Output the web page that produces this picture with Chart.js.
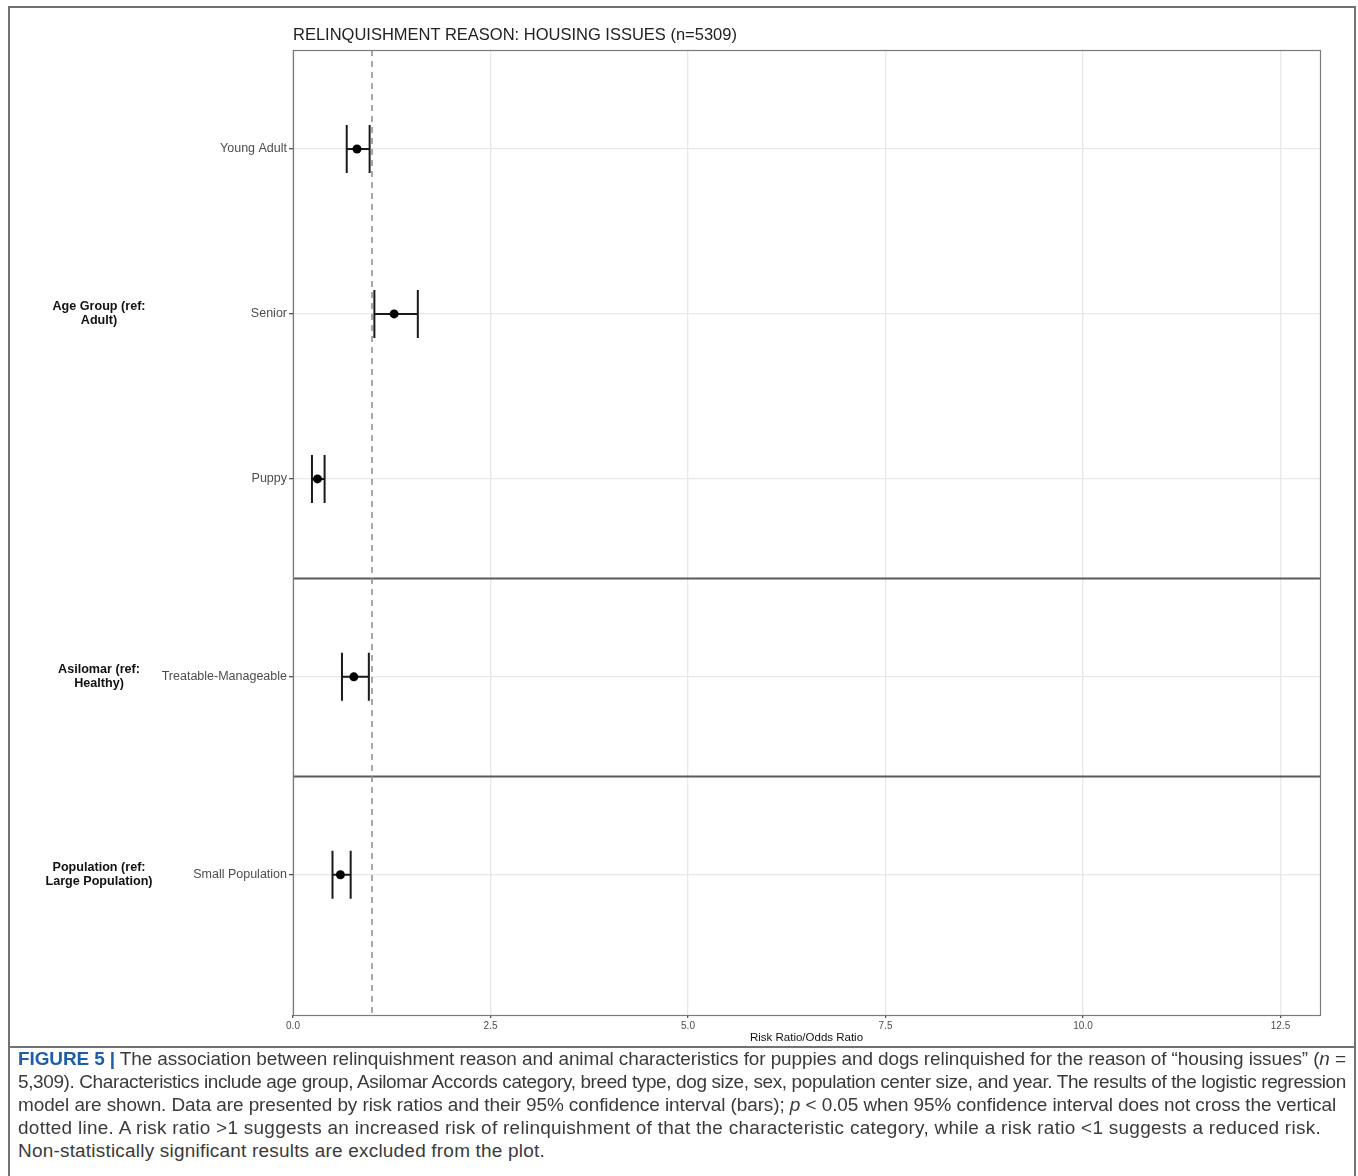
<!DOCTYPE html>
<html><head><meta charset="utf-8">
<script src="https://cdn.jsdelivr.net/npm/chart.js@4.4.1/dist/chart.umd.min.js"></script>
<style>
html,body{margin:0;padding:0;background:#fff;}
#wrap{position:relative;width:1358px;height:1176px;overflow:hidden;font-family:"Liberation Sans",Arial,sans-serif;}
#frame{position:absolute;left:8px;top:6px;width:1348px;height:1300px;border:2px solid #727272;box-sizing:border-box;}
#sep{position:absolute;left:8px;top:1046px;width:1348px;height:0;border-top:2px solid #727272;}
#cv{position:absolute;left:0;top:0;}
#title{position:absolute;left:293px;top:24px;font-size:16.5px;color:#222;white-space:nowrap;line-height:20px;}
.cap{position:absolute;left:18px;color:#3a3a3a;white-space:nowrap;line-height:18px;font-family:"Liberation Sans",Arial,sans-serif;}
.fig{color:#1c5ea8;font-weight:bold;}
</style></head>
<body>
<div id="wrap">
  <div id="frame"></div>
  <canvas id="cv" width="1358" height="1050"></canvas>
  <div id="sep"></div>
  <div id="title">RELINQUISHMENT REASON: HOUSING ISSUES (n=5309)</div>
  <div id="caption"></div>
</div>
<script>
// ---- data ----
const groups = ['Age Group (ref:\nAdult)', 'Asilomar (ref:\nHealthy)', 'Population (ref:\nLarge Population)'];
const categories = ['Young Adult', 'Senior', 'Puppy', 'Treatable-Manageable', 'Small Population'];
const categoryGroup = [0, 0, 0, 1, 2];
const estimate = [0.81, 1.28, 0.31, 0.77, 0.60];
const lower = [0.68, 1.03, 0.24, 0.62, 0.50];
const upper = [0.97, 1.58, 0.40, 0.96, 0.73];
const xTicks = [0, 2.5, 5, 7.5, 10, 12.5];
const refValue = 1;

// ---- discrete positions built from the group structure (ggplot-like expansion) ----
const EXP = 0.6;
const catPos = [];
const groupBounds = [];
let cursor = 0;
groups.forEach((g, gi) => {
  const idx = categoryGroup.map((c, i) => c === gi ? i : -1).filter(i => i >= 0);
  const start = cursor;
  idx.forEach((i, k) => { catPos[i] = start + EXP + k; });
  cursor = start + EXP * 2 + (idx.length - 1);
  groupBounds.push({start, end: cursor, idx});
});
const Y_MAX = 5.85;
const X_MAX = 13.0;

const capHalf = 24;
const errorBars = {
  id: 'errorBars',
  beforeDatasetsDraw(chart) {
    const {ctx, chartArea: a, scales: {x, y}} = chart;
    ctx.save();
    ctx.strokeStyle = '#5a5a5a'; ctx.lineWidth = 1.8;
    groupBounds.slice(0, -1).forEach(b => {
      const py = Math.round(y.getPixelForValue(b.end)) + 0.5;
      ctx.beginPath(); ctx.moveTo(a.left, py); ctx.lineTo(a.right, py); ctx.stroke();
    });
    const rx = x.getPixelForValue(refValue);
    ctx.strokeStyle = '#8a8a8a'; ctx.lineWidth = 1.5; ctx.setLineDash([6, 5]);
    ctx.beginPath(); ctx.moveTo(rx, a.top); ctx.lineTo(rx, a.bottom); ctx.stroke();
    ctx.setLineDash([]);
    ctx.strokeStyle = '#1a1a1a'; ctx.lineWidth = 2;
    categories.forEach((c, i) => {
      const py = y.getPixelForValue(catPos[i]);
      const x0 = x.getPixelForValue(lower[i]);
      const x1 = x.getPixelForValue(upper[i]);
      ctx.beginPath();
      ctx.moveTo(x0, py); ctx.lineTo(x1, py);
      ctx.moveTo(x0, py - capHalf); ctx.lineTo(x0, py + capHalf);
      ctx.moveTo(x1, py - capHalf); ctx.lineTo(x1, py + capHalf);
      ctx.stroke();
    });
    ctx.restore();
  },
  afterDraw(chart) {
    const {ctx, chartArea: a, scales: {y}} = chart;
    ctx.save();
    ctx.strokeStyle = '#7a7a7a'; ctx.lineWidth = 1.2;
    ctx.strokeRect(a.left + 0.5, a.top + 0.5, a.right - a.left, a.bottom - a.top);
    ctx.fillStyle = '#111';
    ctx.font = 'bold 12.6px "Liberation Sans", Arial, sans-serif';
    ctx.textAlign = 'center'; ctx.textBaseline = 'middle';
    groups.forEach((g, gi) => {
      const idx = groupBounds[gi].idx;
      const mid = idx.reduce((s, i) => s + catPos[i], 0) / idx.length;
      const cy = y.getPixelForValue(mid);
      const lines = g.split('\n');
      const lh = 14;
      lines.forEach((ln, k) => {
        ctx.fillText(ln, 99, cy + (k - (lines.length - 1) / 2) * lh);
      });
    });
    ctx.restore();
  }
};

new Chart(document.getElementById('cv'), {
  type: 'scatter',
  data: {
    datasets: [{
      data: categories.map((c, i) => ({x: estimate[i], y: catPos[i]})),
      pointRadius: 4.5, pointHoverRadius: 4.5,
      backgroundColor: '#000', borderColor: '#000', borderWidth: 0
    }]
  },
  options: {
    responsive: false, animation: false,
    layout: {padding: {top: 50, right: 38, left: 0, bottom: 0}},
    plugins: {legend: {display: false}, tooltip: {enabled: false}, title: {display: false}},
    scales: {
      x: {
        type: 'linear', min: 0, max: X_MAX,
        afterBuildTicks: s => { s.ticks = xTicks.map(v => ({value: v})); },
        afterFit: s => { s.height = 35; },
        ticks: {callback: v => Number(v).toFixed(1), font: {size: 10, family: '"Liberation Sans", Arial'}, color: '#4d4d4d', padding: 2, maxRotation: 0},
        grid: {color: '#e8e8e8', lineWidth: 1.3, tickLength: 3, tickColor: '#555'},
        border: {display: false},
        title: {display: true, text: 'Risk Ratio/Odds Ratio', color: '#111', font: {size: 11.5, family: '"Liberation Sans", Arial'}, padding: {top: 0, bottom: 5}}
      },
      y: {
        type: 'linear', min: 0, max: Y_MAX, reverse: true,
        afterBuildTicks: s => { s.ticks = catPos.map(v => ({value: v})); },
        afterFit: s => { s.width = 293; },
        ticks: {callback: (v) => { const i = catPos.indexOf(v); return i >= 0 ? categories[i] : ''; },
                font: {size: 12.5, family: '"Liberation Sans", Arial'}, color: '#4d4d4d', padding: 2},
        grid: {color: '#e8e8e8', lineWidth: 1.3, tickLength: 4, tickColor: '#555'},
        border: {display: false}
      }
    }
  },
  plugins: [errorBars]
});

// ---- caption ----
const captionLines = [
  '<span class="fig">FIGURE 5 |</span> The association between relinquishment reason and animal characteristics for puppies and dogs relinquished for the reason of “housing issues” (<i>n</i> =',
  '5,309). Characteristics include age group, Asilomar Accords category, breed type, dog size, sex, population center size, and year. The results of the logistic regression',
  'model are shown. Data are presented by risk ratios and their 95% confidence interval (bars); <i>p</i> &lt; 0.05 when 95% confidence interval does not cross the vertical',
  'dotted line. A risk ratio &gt;1 suggests an increased risk of relinquishment of that the characteristic category, while a risk ratio &lt;1 suggests a reduced risk.',
  'Non-statistically significant results are excluded from the plot.'
];
const capY = [1059, 1082, 1105, 1128, 1151];
const capEnd = [1346, 1346, 1336, 1321, 545];
const capEl = document.getElementById('caption');
const mc = document.createElement('canvas').getContext('2d');
mc.font = '16px "Liberation Sans", Arial';
const baseSize = 16 * 1328 / mc.measureText(captionLines[1]).width;
const capSize = baseSize * 1.05;
captionLines.forEach((t, k) => {
  const d = document.createElement('div');
  d.className = 'cap';
  d.style.fontSize = capSize.toFixed(2) + 'px';
  d.style.top = (capY[k] - 9) + 'px';
  d.innerHTML = t;
  capEl.appendChild(d);
  const w = d.getBoundingClientRect().width;
  const n = d.textContent.length;
  d.style.letterSpacing = ((capEnd[k] - 18 - w) / n).toFixed(3) + 'px';
});
</script>
</body></html>
